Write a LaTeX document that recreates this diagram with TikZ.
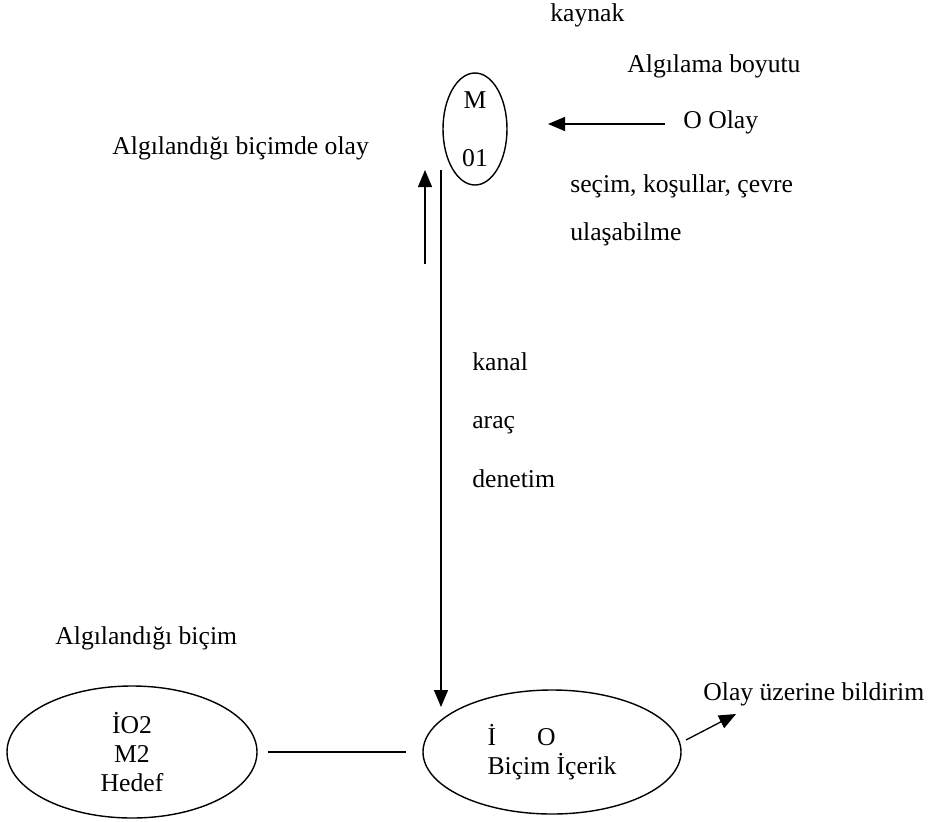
\documentclass[tikz,border=0pt]{standalone}
\usepackage{fontspec}
\setmainfont{Liberation Serif}
\usepackage{tikz}
\usetikzlibrary{positioning,calc,arrows.meta,shapes.geometric}

\begin{document}
\begin{tikzpicture}[font=\fontsize{14.6}{16.6}\selectfont, lbl/.style={anchor=west, inner sep=0pt, text height=0.72em, text depth=0.22em}, oval/.style={draw, ellipse, line width=0.8pt, inner sep=0pt, align=center}, arrow/.style={-{Triangle[length=0.34cm,width=0.28cm]}, line width=0.75pt}]
\useasboundingbox (0,0) rectangle (18.56,-16.42);
\node[lbl] (kaynak) at (11.00,-0.34) {kaynak};
\node[lbl] (boyut) at (12.54,-1.36) {Algılama boyutu};
\node[lbl] (olay) at (13.66,-2.48) {O Olay};
\node[lbl] (bicimde) at (2.24,-3.00) {Algılandığı biçimde olay};
\node[lbl] (secim) at (11.40,-3.76) {seçim, koşullar, çevre};
\node[lbl] (ulas) at (11.40,-4.72) {ulaşabilme};
\node[lbl] (kanal) at (9.44,-7.32) {kanal};
\node[lbl] (arac) at (9.44,-8.48) {araç};
\node[lbl] (denetim) at (9.44,-9.66) {denetim};
\node[lbl] (bicim) at (1.10,-12.80) {Algılandığı biçim};
\node[lbl] (bildirim) at (14.06,-13.92) {Olay üzerine bildirim};
\node[oval, minimum width=1.28cm, minimum height=2.24cm] (m01) at (9.50,-2.58) {M\\[\baselineskip]01};
\node[oval, minimum width=5.0cm, minimum height=2.64cm] (hedef) at (2.64,-15.04) {İO2\\M2\\Hedef};
\node[oval, minimum width=5.16cm, minimum height=2.48cm, align=left] (icerik) at (11.04,-15.04) {İ\hspace{1.6em}O\\Biçim İçerik};
\coordinate (mIn) at (10.96,-2.48);
\coordinate (upLow) at (8.50,-5.28);
\coordinate (upTop) at (8.50,-3.40);
\coordinate (kanalTop) at (8.82,-3.40);
\coordinate (kanalEnd) at (8.82,-14.14);
\coordinate (outLow) at (13.72,-14.80);
\coordinate (outTip) at (14.72,-14.28);
\draw[arrow, shorten <=0.36cm] (olay.west) -- (mIn);
\draw[arrow] (upLow) -- (upTop);
\draw[arrow] (kanalTop) -- (kanalEnd);
\draw[line width=0.75pt, shorten <=0.2cm, shorten >=0.32cm] (hedef) -- (icerik);
\draw[arrow] (outLow) -- (outTip);
\end{tikzpicture}
\end{document}
